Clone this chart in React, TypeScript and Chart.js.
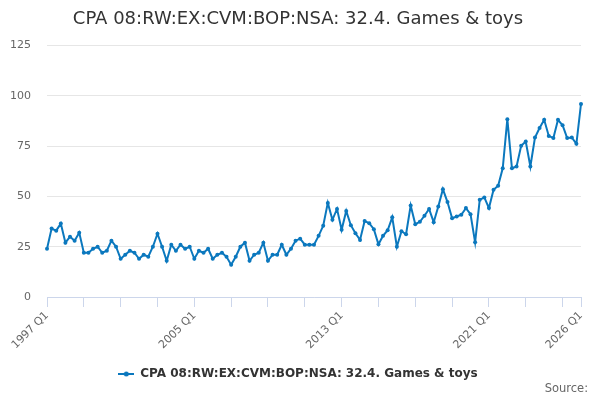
import React, { useEffect, useRef } from 'react'
import { Chart, registerables } from 'chart.js'

Chart.register(...registerables)

const START_YEAR = 1997
const QUARTER_COUNT = 117

const categories: string[] = []
for (let i = 0; i < QUARTER_COUNT; i++) {
  categories.push(`${START_YEAR + Math.floor(i / 4)} Q${(i % 4) + 1}`)
}

const gamesToys = [
  24, 34, 33, 36.5, 27, 30, 28, 32, 22, 22, 24, 25, 22, 23, 28, 25, 19, 21, 23, 22, 19, 21, 20, 25, 31.5, 25, 18, 26, 23,
  26, 24, 25, 19, 23, 22, 24, 19, 21, 22, 20, 16, 20, 25, 27, 18, 21, 22, 27, 18, 21, 21, 26, 21, 24, 28, 29, 26,
  26, 26, 30.4, 35.4, 46.8, 38.4, 43.8, 33.4, 42.8, 35.7, 31.7, 28.4, 37.8, 36.7, 33.7, 26.2, 30.4, 33.2, 39.6, 25, 32.7, 31.2, 45.5, 36.2, 37.4, 40.4, 43.8,
  37.2, 45, 53.6, 47.2, 39.2, 40, 40.9, 44.2, 41.2, 27.2, 48.3, 49.5, 44.2, 53.3, 55.3, 64, 88.4, 64, 64.9, 75.2, 77.3, 64.9, 79.3, 84, 88.1, 80.1, 79, 88.1, 85.4, 79, 79.3, 76.2, 96
]

const tickLabels = ['1997 Q1', '2005 Q1', '2013 Q1', '2021 Q1', '2026 Q1']
// tick marks every two years, plus the last quarter
const tickIndexes = [0, 8, 16, 24, 32, 40, 48, 56, 64, 72, 80, 88, 96, 104, 112, 116]

const SERIES_NAME = 'CPA 08:RW:EX:CVM:BOP:NSA: 32.4. Games & toys'
const LINE_COLOR = '#0b78be'
const FONT = 'DejaVu Sans'

function legendSymbol() {
  const c = document.createElement('canvas')
  c.width = 16
  c.height = 8
  const g = c.getContext('2d')!
  g.strokeStyle = LINE_COLOR
  g.lineWidth = 2
  g.beginPath()
  g.moveTo(0, 4)
  g.lineTo(16, 4)
  g.stroke()
  g.fillStyle = LINE_COLOR
  g.beginPath()
  g.arc(8, 4, 2.5, 0, Math.PI * 2)
  g.fill()
  return c
}

const sourcePlugin = {
  id: 'sourceText',
  afterDraw(chart: Chart) {
    const { ctx } = chart
    ctx.save()
    ctx.font = `11.5px "${FONT}"`
    ctx.fillStyle = '#666666'
    ctx.textAlign = 'right'
    ctx.textBaseline = 'middle'
    ctx.fillText('Source:', 588, 389)
    ctx.restore()
  }
}

export default function App() {
  const canvasRef = useRef<HTMLCanvasElement | null>(null)

  useEffect(() => {
    const el = canvasRef.current
    if (!el) return

    Chart.defaults.font.family = FONT

    const chart = new Chart(el, {
      type: 'line',
      data: {
        labels: categories,
        datasets: [{
          label: SERIES_NAME,
          data: gamesToys,
          borderColor: LINE_COLOR,
          backgroundColor: LINE_COLOR,
          borderWidth: 2,
          pointRadius: 2,
          pointHoverRadius: 2,
          pointBorderWidth: 0,
          tension: 0
        }]
      },
      options: {
        animation: false,
        responsive: false,
        layout: { padding: { left: 0, right: 4, top: 0, bottom: 10 } },
        plugins: {
          title: {
            display: true,
            text: SERIES_NAME,
            color: '#333333',
            font: { size: 18, weight: 'normal' },
            padding: { top: 9, bottom: 15 }
          },
          legend: {
            position: 'bottom',
            labels: {
              color: '#333333',
              font: { size: 12, weight: 'bold' },
              usePointStyle: true,
              pointStyle: legendSymbol(),
              pointStyleWidth: 16,
              padding: 10
            }
          },
          tooltip: { enabled: false }
        },
        scales: {
          x: {
            type: 'category',
            offset: false,
            afterFit(scale: any) { scale.height = 61 },
            afterBuildTicks(scale: any) {
              scale.ticks = tickIndexes.map(v => ({ value: v }))
            },
            grid: {
              display: true,
              drawOnChartArea: false,
              drawTicks: true,
              tickLength: 10,
              tickColor: '#ccd6eb'
            },
            border: { display: true, color: '#ccd6eb' },
            ticks: {
              autoSkip: false,
              minRotation: 45,
              maxRotation: 45,
              padding: 2,
              color: '#666666',
              font: { size: 11 },
              callback(this: any, value: any) {
                const l = this.getLabelForValue(value)
                return tickLabels.includes(l) ? l : ''
              }
            }
          },
          y: {
            min: 0,
            max: 125,
            afterFit(scale: any) { scale.width = 47 },
            grid: { color: '#e6e6e6', drawTicks: false },
            border: { display: false },
            ticks: {
              stepSize: 25,
              padding: 16,
              color: '#666666',
              font: { size: 11 }
            }
          },
          // empty axis that only keeps a margin on the right of the plot
          spacer: {
            type: 'linear',
            position: 'right',
            afterFit(scale: any) { scale.width = 15 },
            grid: { display: false },
            border: { display: false },
            ticks: { display: false }
          }
        }
      },
      plugins: [sourcePlugin]
    })

    return () => chart.destroy()
  }, [])

  return (
    <div style={{ position: 'absolute', left: 0, top: 0, width: 600, height: 400, background: '#fff' }}>
      <canvas ref={canvasRef} width={600} height={400}></canvas>
    </div>
  )
}
